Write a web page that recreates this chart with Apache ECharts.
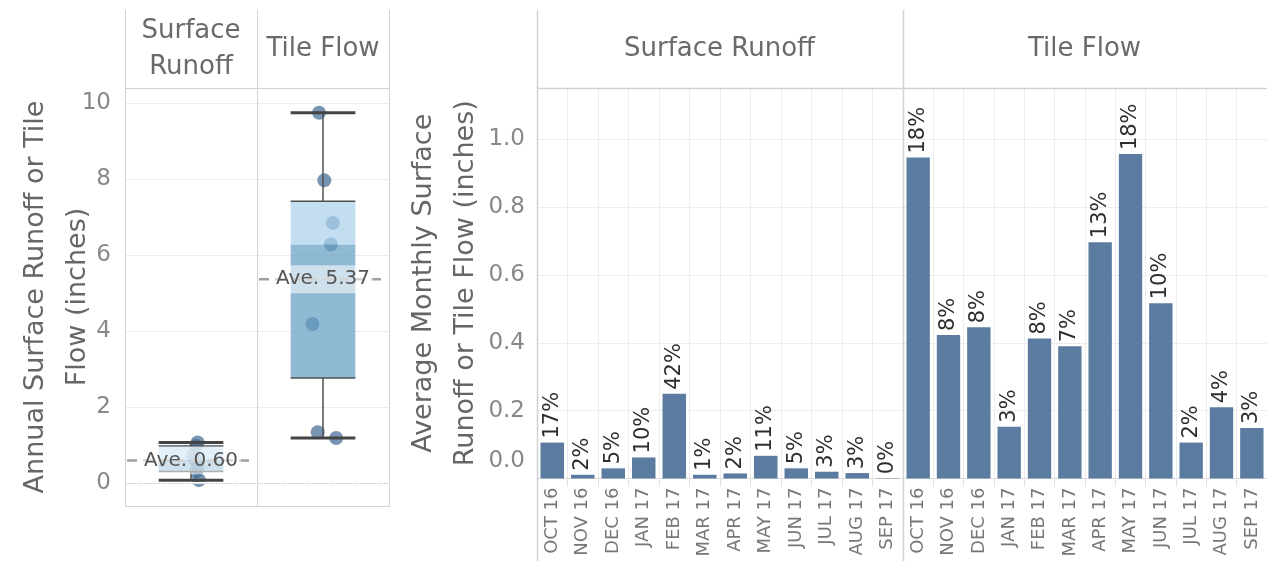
<!DOCTYPE html>
<html><head><meta charset="utf-8">
<script src="https://cdn.jsdelivr.net/npm/echarts@6/dist/echarts.min.js"></script>
<style>html,body{margin:0;padding:0;background:#fff}#c{width:1267px;height:561px}</style>
</head><body><div id="c"></div>
<script>
// ---- data ----
const boxCategories = ['Surface\nRunoff', 'Tile Flow'];
const paneCategories = ['Surface Runoff', 'Tile Flow'];
const surfaceAnnual = [1.07, 0.98, 0.74, 0.62, 0.40, 0.31, 0.08];
const tileAnnual = [9.75, 7.97, 6.85, 6.28, 4.19, 1.34, 1.19];
const surfaceJitter = [0.05, 0.04, 0.015, 0.03, 0.05, 0.04, 0.06];
const tileJitter = [-0.03, 0.01, 0.075, 0.06, -0.08, -0.04, 0.10];
// [min, Q1, median, Q3, max]
const surfaceBox = [0.08, 0.31, 0.62, 0.98, 1.07];
const tileBox = [1.19, 2.77, 6.28, 7.42, 9.75];
const averages = [0.60, 5.37];
const months = ['OCT 16','NOV 16','DEC 16','JAN 17','FEB 17','MAR 17','APR 17','MAY 17','JUN 17','JUL 17','AUG 17','SEP 17'];
const surfaceMonthly = [0.106, 0.011, 0.030, 0.062, 0.250, 0.011, 0.015, 0.067, 0.030, 0.020, 0.016, 0.001];
const tileMonthly = [0.947, 0.423, 0.446, 0.153, 0.413, 0.390, 0.697, 0.957, 0.517, 0.106, 0.210, 0.149];
const surfacePct = [17, 2, 5, 10, 42, 1, 2, 11, 5, 3, 3, 0];
const tilePct = [18, 8, 8, 3, 8, 7, 13, 18, 10, 2, 4, 3];
const leftYTicks = [0, 2, 4, 6, 8, 10];

// ---- chart ----
const FONT = 'DejaVu Sans';
const frame = '#d2d2d2';
const gridCol = '#ededed';
const chart = echarts.init(document.getElementById('c'));

function renderBox(params, api) {
  const idx = api.value(0);
  const mn = api.value(1), q1 = api.value(2), md = api.value(3), q3 = api.value(4), mx = api.value(5), avg = api.value(6);
  const band = api.size([1, 0])[0];
  const c = api.coord([idx, 0])[0];
  const w = band * 0.49;
  const x0 = c - w / 2;
  const y = v => api.coord([idx, v])[1];
  const lc = '#4f4f4f';
  return { type: 'group', children: [
    { type: 'rect', shape: { x: x0, y: y(md), width: w, height: y(q1) - y(md) }, style: { fill: 'rgba(101,159,195,0.72)' } },
    { type: 'rect', shape: { x: x0, y: y(q3), width: w, height: y(md) - y(q3) }, style: { fill: 'rgba(172,209,235,0.72)' } },
    { type: 'line', shape: { x1: x0, y1: y(q3), x2: x0 + w, y2: y(q3) }, style: { stroke: lc, lineWidth: 1.5 } },
    { type: 'line', shape: { x1: x0, y1: y(q1), x2: x0 + w, y2: y(q1) }, style: { stroke: lc, lineWidth: 1.5 } },
    { type: 'line', shape: { x1: c, y1: y(q3), x2: c, y2: y(mx) }, style: { stroke: lc, lineWidth: 1.5 } },
    { type: 'line', shape: { x1: c, y1: y(q1), x2: c, y2: y(mn) }, style: { stroke: lc, lineWidth: 1.5 } },
    { type: 'line', shape: { x1: x0, y1: y(mx), x2: x0 + w, y2: y(mx) }, style: { stroke: '#444', lineWidth: 3 } },
    { type: 'line', shape: { x1: x0, y1: y(mn), x2: x0 + w, y2: y(mn) }, style: { stroke: '#444', lineWidth: 3 } },
    { type: 'line', shape: { x1: c - band / 2 + 2, y1: y(avg), x2: c + band / 2 - 2, y2: y(avg) }, style: { stroke: '#a0a0a0', lineWidth: 2.5, lineDash: [10, 6] } },
    { type: 'text', x: c, y: y(avg), style: { text: 'Ave. ' + avg.toFixed(2), align: 'center', verticalAlign: 'middle', font: '20px "DejaVu Sans"', fill: '#555', backgroundColor: 'rgba(255,255,255,0.55)', padding: [4, 3, 4, 3] } }
  ]};
}

const boxRows = [surfaceBox, tileBox].map((b, i) => [i].concat(b, [averages[i]]));

const headerLabel = () => ({ inside: true, margin: 39, verticalAlign: 'middle', fontSize: 26, color: '#6a6a6a', fontFamily: FONT, lineHeight: 36, interval: 0 });
const fl = (x1, y1, x2, y2, w) => ({ type: 'line', z: 50, shape: { x1, y1, x2, y2 }, style: { stroke: frame, lineWidth: w || 1 } });

const option = {
  animation: false,
  backgroundColor: '#fff',
  textStyle: { fontFamily: FONT },
  grid: [
    { left: 125, top: 88, width: 264, height: 418 },
    { left: 125, top: 10, width: 264, height: 78 },
    { left: 537, top: 10, width: 730, height: 78 },
    { left: 537, top: 88, width: 366, height: 390.5 },
    { left: 903, top: 88, width: 366, height: 390.5 }
  ],
  xAxis: [
    { gridIndex: 0, type: 'category', data: boxCategories, axisLine: { show: false }, axisTick: { show: false }, axisLabel: { show: false }, splitLine: { show: false } },
    { gridIndex: 0, type: 'value', min: -0.5, max: 1.5, show: false },
    { gridIndex: 1, type: 'category', data: boxCategories, axisLine: { show: false }, axisTick: { show: false }, splitLine: { show: false }, axisLabel: headerLabel() },
    { gridIndex: 2, type: 'category', data: paneCategories, axisLine: { show: false }, axisTick: { show: false }, splitLine: { show: false }, axisLabel: headerLabel() },
    { gridIndex: 3, type: 'category', data: months, axisLine: { lineStyle: { color: '#dcdcdc' } },
      axisTick: { show: true, length: 8, lineStyle: { color: '#e2e2e2' } },
      splitLine: { show: true, lineStyle: { color: gridCol } },
      axisLabel: { rotate: 90, fontSize: 18, color: '#777', fontFamily: FONT, margin: 9, interval: 0 } },
    { gridIndex: 4, type: 'category', data: months, axisLine: { lineStyle: { color: '#dcdcdc' } },
      axisTick: { show: true, length: 8, lineStyle: { color: '#e2e2e2' } },
      splitLine: { show: true, lineStyle: { color: gridCol } },
      axisLabel: { rotate: 90, fontSize: 18, color: '#777', fontFamily: FONT, margin: 9, interval: 0 } }
  ],
  yAxis: [
    { gridIndex: 0, type: 'value', min: -0.6, max: 10.4, minInterval: 2, maxInterval: 2,
      axisLine: { show: false }, axisTick: { show: false },
      splitLine: { lineStyle: { color: gridCol } },
      axisLabel: { fontSize: 23, color: '#888', fontFamily: FONT, margin: 14,
        formatter: v => (leftYTicks.indexOf(Math.round(v * 1000) / 1000) >= 0 ? String(Math.round(v)) : '') },
      name: 'Annual Surface Runoff or Tile\nFlow (inches)', nameLocation: 'middle', nameRotate: 90, nameGap: 26,
      nameMoveOverlap: false,
      nameTextStyle: { fontSize: 27, color: '#666', fontFamily: FONT, lineHeight: 42 } },
    { gridIndex: 1, type: 'value', show: false },
    { gridIndex: 2, type: 'value', show: false },
    { gridIndex: 3, type: 'value', min: 0, max: 1.152, interval: 0.2,
      axisLine: { show: false }, axisTick: { show: false },
      splitLine: { lineStyle: { color: gridCol } },
      axisLabel: { fontSize: 23, color: '#888', fontFamily: FONT, margin: 12, lineHeight: 34,
        formatter: v => { const k = v * 5; if (Math.abs(k - Math.round(k)) > 1e-6) return ''; return v === 0 ? '0.0\n' : v.toFixed(1); } },
      name: 'Average Monthly Surface\nRunoff or Tile Flow (inches)', nameLocation: 'middle', nameRotate: 90, nameGap: 50,
      nameMoveOverlap: false,
      nameTextStyle: { fontSize: 27, color: '#666', fontFamily: FONT, lineHeight: 42 } },
    { gridIndex: 4, type: 'value', min: 0, max: 1.152, interval: 0.2,
      axisLine: { show: false }, axisTick: { show: false }, axisLabel: { show: false },
      splitLine: { lineStyle: { color: gridCol } } }
  ],
  graphic: [
    fl(125.5, 10, 125.5, 507), fl(257.5, 10, 257.5, 507), fl(389.5, 10, 389.5, 507),
    fl(125, 88.5, 390, 88.5), fl(125, 506.5, 390, 506.5),
    fl(537.5, 10, 537.5, 561, 1.5), fl(903.5, 10, 903.5, 561, 1.5), fl(537, 88.5, 1267, 88.5, 1.5)
  ],
  series: [
    { type: 'line', xAxisIndex: 1, yAxisIndex: 0, data: [], z: 1, silent: true,
      markLine: { silent: true, symbol: 'none', label: { show: false },
        data: [
          { yAxis: 0, lineStyle: { type: 'solid', color: '#ffffff', width: 2 } },
          { yAxis: 0, lineStyle: { type: 'dotted', color: '#bdbdbd', width: 1.2 } }
        ] } },
    { type: 'scatter', xAxisIndex: 1, yAxisIndex: 0, z: 2, symbolSize: 14,
      itemStyle: { color: 'rgba(62,104,148,0.88)' },
      data: surfaceAnnual.map((v, i) => [0 + surfaceJitter[i], v]) },
    { type: 'scatter', xAxisIndex: 1, yAxisIndex: 0, z: 2, symbolSize: 14,
      itemStyle: { color: 'rgba(62,104,148,0.88)' },
      data: tileAnnual.map((v, i) => [1 + tileJitter[i], v]) },
    { type: 'custom', xAxisIndex: 0, yAxisIndex: 0, z: 3, renderItem: renderBox,
      encode: { x: 0, y: [1, 2, 3, 4, 5] }, data: boxRows },
    { type: 'bar', xAxisIndex: 4, yAxisIndex: 3, data: surfaceMonthly, barCategoryGap: '23%',
      itemStyle: { color: '#5b7ca0' },
      label: { show: true, position: 'top', rotate: 90, align: 'left', verticalAlign: 'middle', distance: 4,
        fontSize: 21, color: '#2e2e2e', fontFamily: FONT, formatter: p => surfacePct[p.dataIndex] + '%' } },
    { type: 'bar', xAxisIndex: 5, yAxisIndex: 4, data: tileMonthly, barCategoryGap: '23%',
      itemStyle: { color: '#5b7ca0' },
      label: { show: true, position: 'top', rotate: 90, align: 'left', verticalAlign: 'middle', distance: 4,
        fontSize: 21, color: '#2e2e2e', fontFamily: FONT, formatter: p => tilePct[p.dataIndex] + '%' } }
  ]
};
chart.setOption(option);
</script></body></html>
